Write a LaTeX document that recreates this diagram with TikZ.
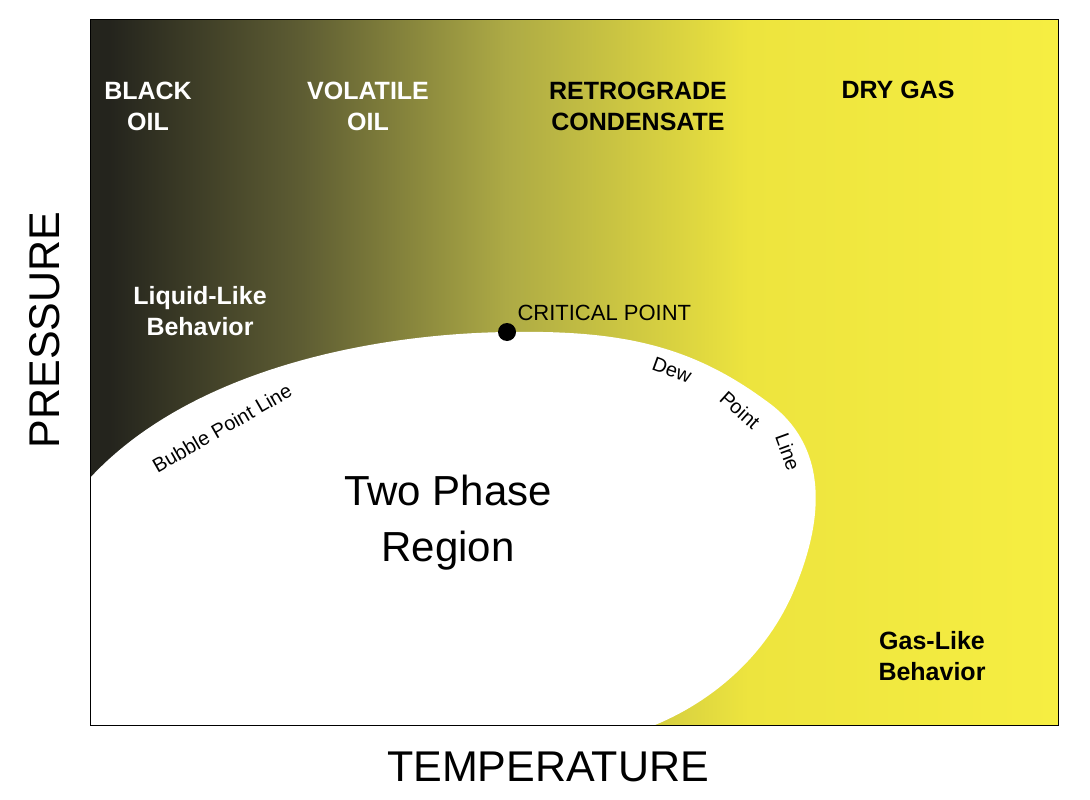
\documentclass[tikz,border=0pt]{standalone}
\usepackage{fontspec}
\setmainfont{Liberation Sans}
\definecolor{c0}{HTML}{24241D}
\definecolor{c1}{HTML}{5E5D33}
\definecolor{c2}{HTML}{ADAA45}
\definecolor{c3}{HTML}{EDE43E}
\definecolor{c4}{HTML}{F6EE42}
\pgfdeclarehorizontalshading{bgshade}{100bp}{color(0bp)=(c0); color(26bp)=(c0); color(36bp)=(c1); color(46.5bp)=(c2); color(59bp)=(c3); color(75bp)=(c4); color(100bp)=(c4)}
\tikzset{
  lbl/.style={font=\bfseries\fontsize{25}{31}\selectfont, align=center},
  wl/.style={lbl, text=white},
  bl/.style={lbl, text=black},
  curvelbl/.style={font=\fontsize{20}{24}\selectfont, inner sep=0pt},
  ax/.style={font=\fontsize{43}{48}\selectfont}
}
\begin{document}
\begin{tikzpicture}[x=1pt,y=-1pt]
\useasboundingbox (0,0) rectangle (1090,800);
\fill[white] (0,0) rectangle (1090,800);
\shade[shading=bgshade] (90,20) rectangle (1058,725);
\fill[white] (90,478) .. controls (190,370) and (370,334) .. (507,332)
  .. controls (620,330) and (690,345) .. (765,400)
  .. controls (830,445) and (825,520) .. (792,595)
  .. controls (765,655) and (715,700) .. (655,725) -- (90,725) -- cycle;
\draw[line width=1pt] (90,20) rectangle (1058,725);
\node[fill=black, circle, inner sep=0pt, minimum size=18pt] (cp) at (507,332) {};
\node[anchor=west, font=\fontsize{22}{26}\selectfont] (cpl) at (514,313) {CRITICAL POINT};
\node[wl] (bo) at (148,106) {BLACK\\OIL};
\node[wl] (vo) at (368,106) {VOLATILE\\OIL};
\node[bl] (rc) at (638,106) {RETROGRADE\\CONDENSATE};
\node[bl] (dg) at (898,90) {DRY GAS};
\node[wl] (ll) at (200,311) {Liquid-Like\\Behavior};
\node[bl] (gl) at (932,656) {Gas-Like\\Behavior};
\node[curvelbl, rotate=30] (bpl) at (222,428) {Bubble Point Line};
\node[curvelbl, rotate=-20] (dw) at (672,370) {Dew};
\node[curvelbl, rotate=-42] (pt) at (740,410) {Point};
\node[curvelbl, rotate=-70] (ln) at (788,452) {Line};
\node[font=\fontsize{42}{56}\selectfont, align=center] (tp) at (448,523) {Two Phase\\Region};
\node[ax, rotate=90] (pr) at (45,330) {PRESSURE};
\node[ax] (tm) at (548,767) {TEMPERATURE};
\end{tikzpicture}
\end{document}
